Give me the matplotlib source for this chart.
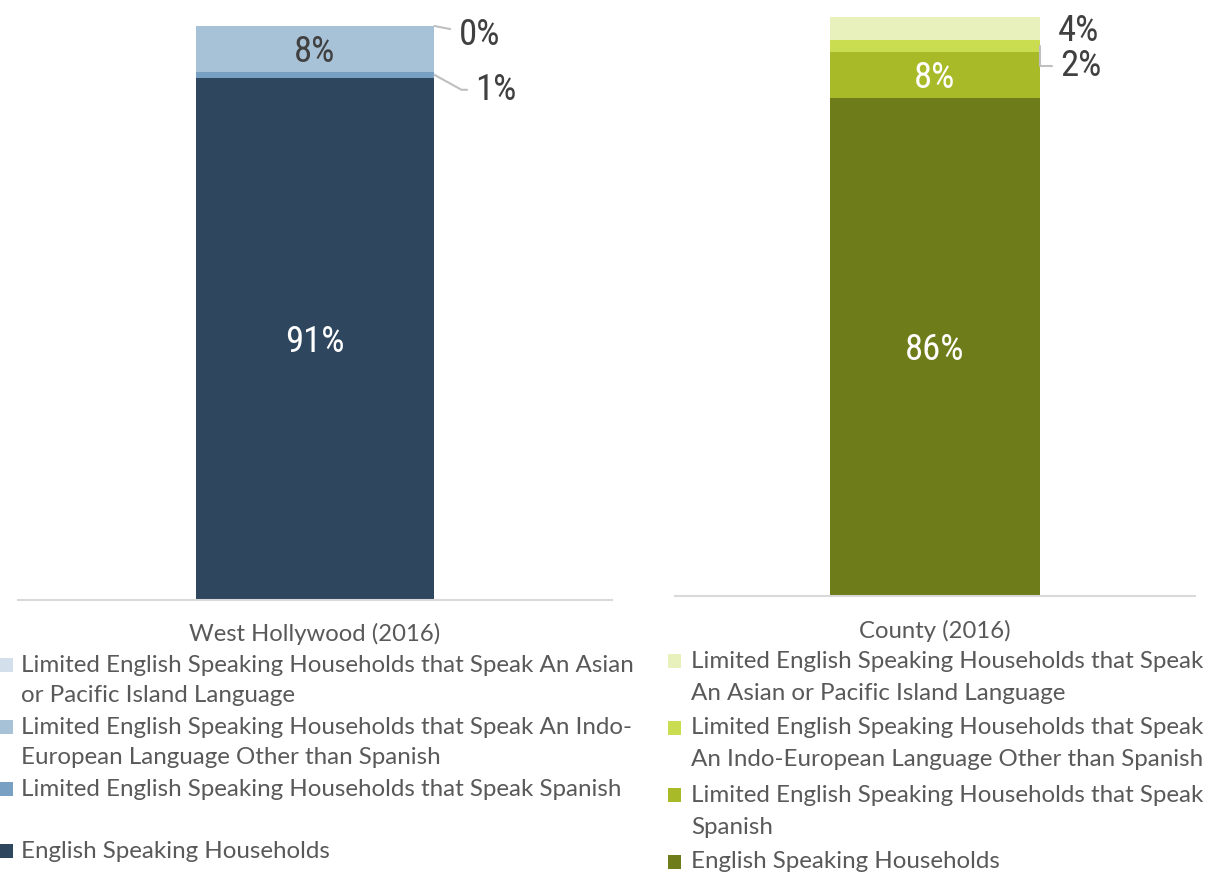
import matplotlib
matplotlib.use("Agg")
import matplotlib.pyplot as plt
from matplotlib import font_manager
from matplotlib.patches import Rectangle
import matplotlib.colors as mcolors

# Households by language spoken, 2016 (stack order: bottom -> top)
segments = ['English Speaking Households',
            'Limited English - Spanish',
            'Limited English - Indo-European',
            'Limited English - Asian / Pacific Island']
weho_values = [91, 1, 8, 0]
county_values = [86, 8, 2, 4]
weho_colors = ['#2E475E', '#78A0C2', '#A7C1D7', '#D3DFEA']
county_colors = ['#6E7D1A', '#A9BA28', '#CADC4F', '#E8F0BB']
panel_titles = ['West Hollywood (2016)', 'County (2016)']

# legend text, top entry first, as wrapped in the original
weho_legend = [['Limited English Speaking Households that Speak An Asian', 'or Pacific Island Language'],
               ['Limited English Speaking Households that Speak An Indo-', 'European Language Other than Spanish'],
               ['Limited English Speaking Households that Speak Spanish', ''],
               ['English Speaking Households']]
county_legend = [['Limited English Speaking Households that Speak', 'An Asian or Pacific Island Language'],
                 ['Limited English Speaking Households that Speak', 'An Indo-European Language Other than Spanish'],
                 ['Limited English Speaking Households that Speak', 'Spanish'],
                 ['English Speaking Households']]

W, H = 1215, 873
names = {f.name for f in font_manager.fontManager.ttflist}
label_font = 'DejaVu Sans'
label_size = 22
for fam, size in [('Liberation Sans Narrow', 27), ('Roboto Condensed', 26.5), ('Roboto', 25)]:
    if fam in names:
        label_font, label_size = fam, size
        break
text_font = 'Lato' if 'Lato' in names else 'DejaVu Sans'

fig = plt.figure(figsize=(W / 100, H / 100), dpi=100)


def px(x, y):
    return x / W, 1 - y / H


def panel(rect, values, colors, title, title_y, outside):
    ax = fig.add_axes(rect)
    bar_w = 0.402
    bottom = 0
    for i, (v, c) in enumerate(zip(values, colors)):
        ax.bar(0, v, bottom=bottom, width=bar_w, color=c, linewidth=0)
        mid = bottom + v / 2
        if i in outside:
            dx, dy, conn, rel = outside[i]
            yy = bottom + v if v == 0 else mid
            kw = {}
            if conn is not None:
                kw['arrowprops'] = dict(arrowstyle='-', color='#BFBFBF', lw=1.5,
                                        connectionstyle=conn, relpos=rel,
                                        shrinkA=4, shrinkB=0)
            ax.annotate(f'{v}%', xy=(bar_w / 2, yy), xytext=(dx, dy),
                        textcoords='offset pixels', ha='left', va='center',
                        fontsize=label_size, family=label_font, color='#404040',
                        annotation_clip=False, **kw)
        else:
            r, g, b = mcolors.to_rgb(c)
            lum = 0.299 * r + 0.587 * g + 0.114 * b
            tc = 'white' if lum < 0.7 else '#404040'
            ax.annotate(f'{v}%', xy=(0, mid), xytext=(0, -3), textcoords='offset pixels',
                        ha='center', va='center', fontsize=label_size,
                        family=label_font, color=tc)
        bottom += v
    ax.set_xlim(-0.5, 0.5)
    for s in ['top', 'left', 'right']:
        ax.spines[s].set_visible(False)
    ax.spines['bottom'].set_color('#D9D9D9')
    ax.spines['bottom'].set_linewidth(1.5)
    ax.set_xticks([])
    ax.set_yticks([])
    ax.patch.set_alpha(0)
    cx = (rect[0] + rect[2] / 2)
    fig.text(cx, 1 - title_y / H, title, ha='center', va='center', fontsize=17.2,
             family=text_font, color='#595959')
    return ax


# West Hollywood: baseline at y=600px, 100% at y=26px
ax1 = panel([18 / W, 273 / H, 594 / W, 600 / H], weho_values, weho_colors,
            panel_titles[0], 634,
            {3: (24, -9, 'arc3,rad=0', (0, 0.62)),
             1: (41, -15, 'angle,angleA=0,angleB=-29,rad=0', (0, 0.5))})
ax1.set_ylim(0, 600 / 5.74)

# County: baseline at y=596px, 100% at y=17px
ax2 = panel([675 / W, 277 / H, 520 / W, 596 / H], county_values, county_colors,
            panel_titles[1], 631,
            {3: (18, -2, None, None),
             2: (21, -20, 'angle,angleA=0,angleB=90,rad=0', (0, 0.5))})
ax2.set_ylim(0, 596 / 5.79)


def legend(entries, colors, x_box, x_text, y0, pitch, gap):
    y = y0
    for lines, c in zip(entries, colors[::-1]):
        bx, by = px(x_box, y + 7)
        fig.patches.append(Rectangle((bx, by), 13 / W, 14 / H, transform=fig.transFigure,
                                     facecolor=c, edgecolor='none'))
        for ln in lines:
            tx, ty = px(x_text, y)
            fig.text(tx, ty, ln, ha='left', va='center', fontsize=17.4,
                     family=text_font, color='#595959')
            y += pitch
        y += gap


legend(weho_legend, weho_colors, 0, 21, 665, 31, 0)
legend(county_legend, county_colors, 668, 691, 661, 32, 3)

fig.savefig('out.png', dpi=100)
